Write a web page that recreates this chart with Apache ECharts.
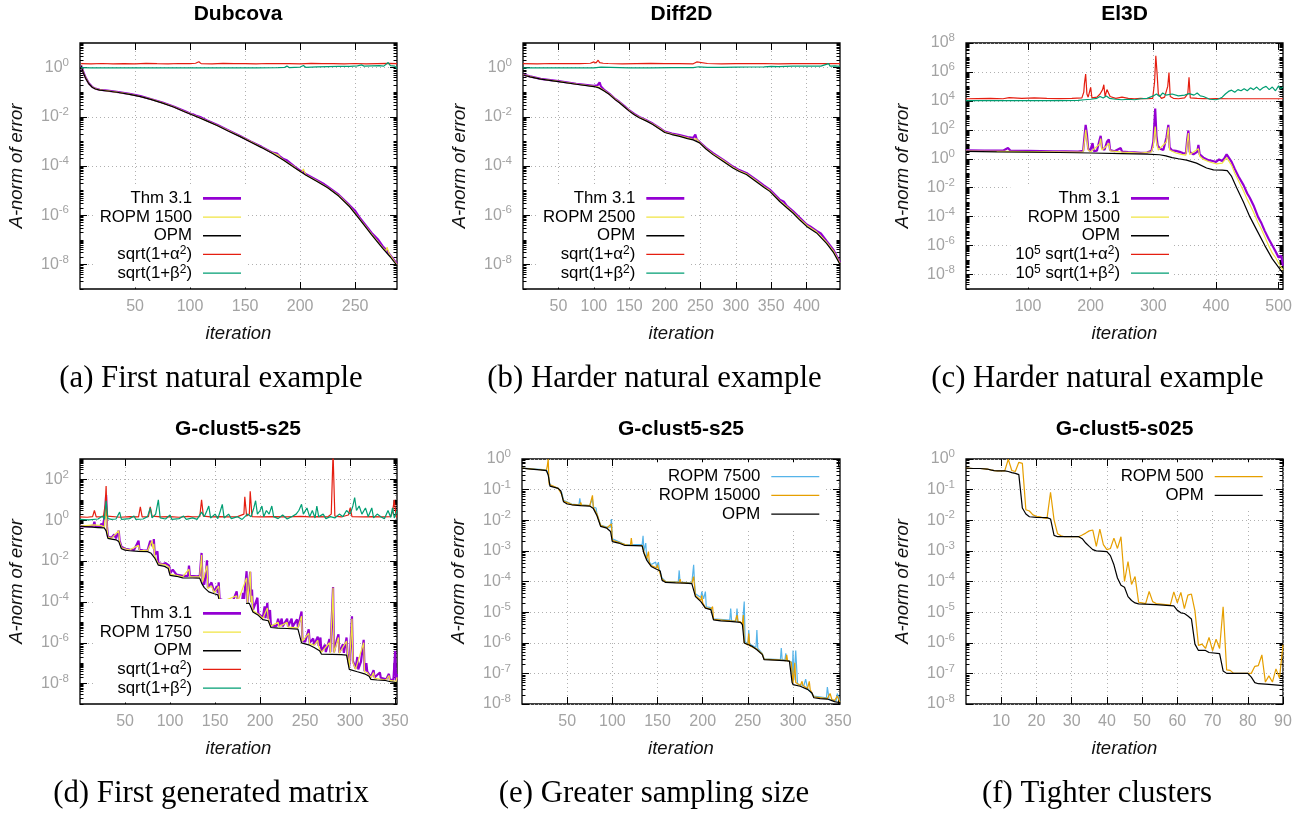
<!DOCTYPE html>
<html><head><meta charset="utf-8">
<script src="https://cdn.jsdelivr.net/npm/echarts/dist/echarts.min.js"></script>
<style>html,body{margin:0;padding:0;background:#fff}#c{width:1310px;height:813px}</style>
</head><body><div id="c"></div>
<script>
// ---------- tick labels ----------
const xTicksA = [50,100,150,200,250];
const xTicksB = [50,100,150,200,250,300,350,400];
const xTicksC = [100,200,300,400,500];
const xTicksD = [50,100,150,200,250,300,350];
const xTicksF = [10,20,30,40,50,60,70,80,90];
const yTicksAB = [1e-8,1e-6,1e-4,1e-2,1];
const yTicksC = [1e-8,1e-6,1e-4,1e-2,1,1e2,1e4,1e6,1e8];
const yTicksD = [1e-8,1e-6,1e-4,1e-2,1,1e2];
const yTicksEF = [1e-8,1e-7,1e-6,1e-5,1e-4,1e-3,1e-2,1e-1,1];

// ---------- (a) Dubcova ----------
const dubThm = [[1,1.25],[3,0.66],[5,0.4],[8,0.23],[11,0.165],[14,0.14],[18,0.126],[25,0.116],[35,0.1],[45,0.085],[55,0.069],[65,0.052],[75,0.038],[85,0.026],[95,0.017],[101,0.013],[103,0.0125],[105,0.0112],[110,0.0095],[115,0.0072],[125,0.0046],[135,0.0028],[145,0.0017],[155,0.001],[165,0.0006],[172,0.00041],[175,0.00035],[179,0.00032],[181,0.00026],[185,0.00019],[188,0.00017],[195,9.5e-5],[200,6.5e-5],[203,5.8e-5],[205,4.7e-5],[215,2.7e-5],[222,1.8e-5],[225,1.45e-5],[235,6.8e-6],[245,2.5e-6],[250,1.5e-6],[255,7e-7],[265,1.9e-7],[271,1e-7],[275,5.5e-8],[279,3.6e-8],[282,2.3e-8],[288,1.05e-8]];
const dubROPM = [[1,1.22],[3,0.64],[5,0.39],[8,0.225],[11,0.162],[14,0.137],[18,0.124],[25,0.114],[35,0.099],[45,0.083],[55,0.067],[65,0.051],[75,0.037],[85,0.0255],[95,0.0165],[105,0.0108],[115,0.007],[125,0.0044],[135,0.0027],[145,0.00165],[155,0.00098],[165,0.00058],[175,0.00034],[180,0.00028],[182,0.00022],[185,0.000175],[195,9e-5],[201,5.5e-5],[203,7.5e-5],[205,4.4e-5],[215,2.5e-5],[225,1.35e-5],[235,6.3e-6],[245,2.3e-6],[255,6.3e-7],[265,1.7e-7],[275,4.8e-8],[278,3.5e-8],[279,5e-8],[281,2.6e-8],[288,9.5e-9]];
const dubOPM = [[1,1.2],[3,0.62],[5,0.38],[8,0.22],[11,0.16],[14,0.135],[18,0.122],[25,0.112],[35,0.097],[45,0.082],[55,0.066],[65,0.05],[75,0.036],[85,0.025],[95,0.016],[105,0.0105],[115,0.0068],[125,0.0043],[135,0.0026],[145,0.0016],[155,0.00095],[165,0.00056],[175,0.00032],[185,0.00017],[195,8.5e-5],[205,4.3e-5],[215,2.4e-5],[225,1.3e-5],[235,6e-6],[245,2.2e-6],[255,6e-7],[265,1.6e-7],[275,4.5e-8],[282,2e-8],[288,9e-9]];
const dubAlpha = [[1,1.45],[10,1.42],[20,1.47],[30,1.43],[40,1.46],[50,1.42],[60,1.48],[70,1.44],[80,1.43],[90,1.47],[100,1.44],[105,1.5],[108,1.72],[110,1.45],[120,1.43],[130,1.48],[140,1.44],[150,1.46],[160,1.42],[170,1.47],[180,1.44],[190,1.46],[200,1.43],[210,1.48],[220,1.44],[230,1.46],[240,1.42],[250,1.47],[260,1.43],[270,1.46],[280,1.48],[288,1.45]];
const dubBeta = [[1,1.0],[10,0.97],[20,0.98],[40,0.97],[60,0.98],[80,0.97],[100,0.98],[120,0.97],[140,0.98],[160,0.98],[180,0.99],[186,1.02],[188,1.15],[190,1.0],[200,1.05],[203,1.22],[205,1.03],[215,1.08],[225,1.1],[235,1.12],[245,1.12],[252,1.18],[256,1.28],[258,1.15],[265,1.18],[272,1.2],[276,1.15],[280,1.6],[282,1.2],[286,1.15],[288,0.92]];

// ---------- (b) Diff2D ----------
const difThm = [[0,0.52],[10,0.44],[25,0.35],[50,0.28],[75,0.22],[100,0.18],[105,0.19],[108,0.25],[110,0.17],[115,0.12],[122,0.085],[130,0.053],[136,0.04],[143,0.027],[150,0.018],[157,0.013],[164,0.0098],[175,0.007],[183,0.0053],[192,0.0036],[200,0.0025],[210,0.0021],[221,0.0018],[232,0.0015],[240,0.0014],[243,0.0019],[245,0.0012],[249,0.00095],[258,0.00055],[268,0.00033],[282,0.00018],[296,9.5e-5],[305,6.8e-5],[315,5.2e-5],[329,2.7e-5],[340,1.6e-5],[348,1.1e-5],[362,4.3e-6],[368,3.5e-6],[372,2.4e-6],[381,1.45e-6],[390,8e-7],[400,4.2e-7],[405,3.5e-7],[414,2.3e-7],[420,1.8e-7],[428,9e-8],[438,3.8e-8],[447,1.2e-8]];
const difROPM = [[0,0.51],[10,0.43],[25,0.345],[50,0.275],[75,0.215],[100,0.175],[107,0.16],[115,0.115],[122,0.083],[130,0.052],[136,0.039],[143,0.026],[150,0.0175],[157,0.0125],[164,0.0095],[175,0.0068],[183,0.0051],[192,0.0035],[200,0.0024],[210,0.002],[221,0.0017],[232,0.0014],[240,0.0012],[244,0.0013],[249,0.0009],[258,0.00052],[268,0.00031],[282,0.00017],[296,8.9e-5],[305,6.4e-5],[315,4.8e-5],[329,2.5e-5],[340,1.45e-5],[348,1e-5],[362,3.9e-6],[372,2.2e-6],[381,1.3e-6],[390,7.2e-7],[400,3.9e-7],[414,2.1e-7],[428,8e-8],[438,3.4e-8],[447,1.1e-8]];
const difOPM = [[0,0.5],[10,0.42],[25,0.34],[50,0.27],[75,0.21],[100,0.17],[107,0.15],[115,0.11],[122,0.08],[130,0.05],[136,0.037],[143,0.025],[150,0.017],[157,0.012],[164,0.0091],[175,0.0065],[183,0.0049],[192,0.0033],[200,0.0023],[210,0.0019],[221,0.0016],[232,0.0013],[240,0.00115],[249,0.00087],[258,0.00049],[268,0.00029],[282,0.000155],[296,8.3e-5],[305,6e-5],[315,4.5e-5],[329,2.3e-5],[340,1.35e-5],[348,9.3e-6],[362,3.6e-6],[372,2e-6],[381,1.2e-6],[390,6.5e-7],[400,3.5e-7],[414,1.9e-7],[428,7.2e-8],[438,3e-8],[447,1e-8]];
const difAlpha = [[0,1.45],[20,1.43],[40,1.47],[60,1.44],[80,1.46],[95,1.5],[100,1.7],[103,1.55],[106,2.0],[108,1.6],[110,1.85],[113,1.5],[120,1.47],[140,1.43],[160,1.46],[180,1.48],[200,1.44],[220,1.46],[240,1.43],[245,1.7],[247,1.45],[260,1.47],[280,1.43],[300,1.46],[320,1.44],[340,1.47],[360,1.43],[380,1.46],[400,1.45],[420,1.47],[440,1.44],[447,1.45]];
const difBeta = [[0,0.98],[20,0.97],[50,0.98],[80,0.97],[100,0.98],[110,1.05],[112,0.98],[150,0.97],[180,0.98],[210,1.0],[240,1.0],[248,1.08],[260,1.02],[280,1.03],[300,1.05],[320,1.06],[340,1.08],[350,1.12],[360,1.1],[380,1.14],[400,1.15],[420,1.15],[431,1.45],[433,1.15],[440,1.18],[447,1.12]];

// ---------- (c) El3D ----------
const elThm = [[1,3.8],[30,3.7],[60,3.6],[68,5.5],[70,4.2],[72,3.6],[100,3.5],[120,3.4],[140,3.3],[160,3.2],[180,3.1],[188,3.5],[190,30],[192,220],[194,50],[196,5],[199,3.4],[203,12],[205,3.4],[210,3.6],[214,18],[216,38],[218,6],[222,4],[226,15],[229,22],[231,4],[238,3.3],[248,5.5],[250,3.1],[260,2.9],[270,2.8],[280,2.6],[290,2.7],[297,3.5],[300,15],[303,3000],[305,40],[307,8],[311,5],[316,4],[321,30],[324,220],[326,6],[330,3.8],[336,3.5],[342,3.0],[347,2.5],[352,2.3],[354,20],[356,90],[358,3],[364,2],[370,3],[372,9],[374,2],[380,1.2],[388,0.8],[395,0.7],[400,0.6],[405,0.9],[410,0.7],[414,1.2],[417,2.0],[420,1.5],[425,0.6],[430,0.2],[436,0.06],[444,0.015],[450,0.004],[454,0.002],[460,0.0006],[467,0.0001],[472,4e-5],[478,1e-5],[484,3e-6],[490,1e-6],[495,4e-7],[500,1.5e-7],[504,2e-7],[507,4e-8]];
const elROPM = [[1,3.4],[60,3.2],[100,3.1],[140,3.0],[180,2.9],[188,3.0],[190,15],[192,100],[194,20],[196,4],[200,3.0],[214,10],[216,25],[218,4],[226,8],[229,12],[231,3.5],[250,2.9],[280,2.5],[297,3],[300,8],[303,170],[305,15],[308,4],[321,15],[324,150],[326,4],[336,2.5],[345,2.0],[352,1.8],[354,12],[356,60],[358,2],[372,5],[374,1.5],[380,0.9],[390,0.6],[400,0.45],[410,0.5],[417,1.2],[420,0.9],[425,0.35],[430,0.1],[436,0.03],[444,0.006],[450,0.0015],[454,0.0007],[460,0.0002],[467,4e-5],[472,1.5e-5],[475,2e-5],[478,4e-6],[484,1e-6],[490,3e-7],[495,1.5e-7],[500,6e-8],[507,2e-8]];
const elOPM = [[1,3.2],[50,3.0],[100,2.9],[150,2.7],[200,2.5],[250,2.3],[290,2.1],[310,1.9],[320,1.6],[330,1.2],[340,1.0],[353,0.8],[369,0.5],[385,0.23],[396,0.17],[410,0.165],[418,0.15],[425,0.06],[433,0.01],[444,0.001],[454,0.0001],[466,1e-5],[478,1e-6],[490,1.2e-7],[507,1.2e-8]];
const elAlpha = [[1,1.4e4],[20,1.45e4],[40,1.5e4],[60,1.4e4],[70,1.7e4],[72,1.45e4],[90,1.5e4],[110,1.6e4],[130,1.5e4],[150,1.45e4],[170,1.5e4],[186,1.6e4],[189,4e4],[190,1.5e5],[192,7.2e5],[194,3e4],[196,1.8e4],[200,8.7e4],[202,1.6e4],[210,1.8e4],[215,3e4],[219,6e4],[221,1.3e5],[223,2e4],[226,6e4],[229,7.4e4],[231,2e4],[240,1.5e4],[250,1.8e4],[260,1.5e4],[270,1.4e4],[280,1.5e4],[290,1.4e4],[299,1.5e4],[302,2e5],[304,1.3e7],[306,8e5],[308,3e4],[313,1.5e4],[318,1.8e4],[323,1e5],[325,9e5],[327,2e4],[332,1.5e4],[340,1.4e4],[350,1.6e4],[355,3e4],[357,4.3e5],[359,1.6e4],[370,1.5e4],[380,1.45e4],[390,1.4e4],[400,1.45e4],[420,1.4e4],[440,1.4e4],[460,1.4e4],[480,1.4e4],[507,1.4e4]];
const elBeta = [[1,1.05e4],[50,1.05e4],[100,1.05e4],[150,1.05e4],[180,1.1e4],[190,1.2e4],[200,1.3e4],[210,1.5e4],[215,2e4],[220,1.6e4],[225,2.2e4],[230,1.5e4],[240,1.3e4],[250,1.2e4],[260,1.3e4],[270,1.2e4],[280,1.4e4],[290,1.5e4],[300,2.2e4],[305,3e4],[310,2e4],[315,3.5e4],[320,2.5e4],[330,3e4],[340,2.2e4],[350,2.5e4],[357,3.2e4],[365,2.5e4],[370,3.5e4],[375,2.2e4],[380,2e4],[390,1.3e4],[400,1.2e4],[405,1.4e4],[410,1.8e4],[415,3e4],[420,4.5e4],[425,5.5e4],[430,4e4],[435,6e4],[440,5e4],[445,7e4],[450,5e4],[455,8e4],[460,6e4],[465,9e4],[470,5.5e4],[475,8e4],[480,1e5],[485,6e4],[490,9e4],[495,5e4],[500,1.1e5],[503,7e4],[507,9e4]];

// ---------- (d)/(e) G-clust5-s25 ----------
const gOPM = [[0,0.5],[10,0.47],[20,0.44],[27,0.42],[29,0.3],[31,0.13],[35,0.12],[40,0.11],[43,0.09],[46,0.04],[50,0.034],[55,0.032],[65,0.03],[75,0.029],[79,0.024],[83,0.014],[87,0.0063],[94,0.0055],[98,0.0043],[100,0.002],[107,0.0018],[114,0.0015],[125,0.00148],[133,0.00145],[135,0.00083],[138,0.0005],[143,0.00031],[149,0.00025],[153,0.00022],[155,0.00011],[159,9.3e-5],[170,9e-5],[180,8.8e-5],[188,8.5e-5],[190,8e-5],[192,3.2e-5],[198,2.2e-5],[203,1.35e-5],[209,1.2e-5],[212,5.6e-6],[220,5.2e-6],[230,5e-6],[242,4.6e-6],[244,3.9e-6],[246,9.8e-7],[255,7.6e-7],[260,5.9e-7],[266,4.1e-7],[268,2.8e-7],[280,2.7e-7],[290,2.6e-7],[296,2.5e-7],[298,2.2e-7],[299,5e-8],[300,4.3e-8],[308,3.8e-8],[316,3e-8],[321,2.3e-8],[323,1.6e-8],[330,1.5e-8],[338,1.45e-8],[340,1.25e-8],[346,1.2e-8],[352,1.1e-8]];
const gThm = [[0,0.52],[10,0.5],[15,0.55],[16,0.85],[17,0.5],[22,0.48],[24,0.7],[25,0.46],[27,0.45],[28,2],[29,17],[30,0.5],[31,0.16],[35,0.14],[38,0.2],[40,0.13],[43,0.31],[44,0.1],[46,0.05],[50,0.04],[55,0.037],[60,0.035],[65,0.1],[66,0.036],[70,0.034],[75,0.033],[78,0.1],[80,0.12],[81,0.05],[82,0.12],[83,0.02],[86,0.03],[87,0.008],[92,0.007],[95,0.008],[97,0.009],[99,0.006],[100,0.0025],[103,0.0038],[107,0.0022],[114,0.0019],[120,0.0019],[121,0.006],[122,0.0019],[130,0.0018],[133,0.0019],[135,0.025],[136,0.001],[138,0.0007],[140,0.003],[141,0.011],[142,0.0005],[146,0.0009],[149,0.0003],[152,0.0006],[153,0.00027],[154,0.0009],[155,0.00014],[159,0.00012],[165,0.00011],[170,0.00012],[174,0.00033],[175,0.00011],[180,0.00011],[181,0.00028],[182,0.00011],[185,0.0032],[186,0.0001],[189,0.003],[190,0.0001],[191,0.0004],[192,4e-5],[197,0.00016],[198,2.7e-5],[203,1.7e-5],[205,6e-5],[206,1.6e-5],[208,9e-5],[209,1.5e-5],[211,4e-5],[212,7e-6],[218,6.5e-6],[220,1.5e-5],[221,6.5e-6],[224,1.5e-5],[225,6.3e-6],[230,1.5e-5],[231,6.2e-6],[235,1.5e-5],[236,6e-6],[241,1.4e-5],[242,5.8e-6],[246,3.4e-5],[247,1.3e-6],[250,1.1e-6],[254,4.5e-6],[255,1e-6],[259,1.6e-6],[260,8e-7],[264,2e-6],[265,7e-7],[267,1.8e-6],[268,3.7e-7],[272,8e-7],[273,3.5e-7],[277,1.5e-6],[278,3.4e-7],[281,0.00054],[282,3.4e-7],[285,1.3e-6],[287,2.6e-6],[288,3.3e-7],[292,8.5e-7],[293,3.2e-7],[296,1.8e-6],[297,3e-7],[299,7e-8],[302,2e-5],[303,1.3e-7],[306,5.5e-8],[308,2e-7],[309,5e-8],[312,1.2e-7],[315,1.4e-6],[316,4e-8],[318,1e-7],[319,3.8e-8],[323,2.1e-8],[326,4.5e-8],[327,2e-8],[333,3.5e-8],[334,1.9e-8],[340,1.6e-8],[343,3e-8],[344,1.55e-8],[348,1.5e-8],[350,4e-7],[351,1.4e-8],[352,3e-8]];
const gROPM1750 = [[0,0.51],[16,0.6],[17,0.49],[24,0.55],[25,0.45],[27,0.44],[28,1.5],[29,10],[30,0.4],[31,0.15],[35,0.13],[43,0.31],[44,0.09],[46,0.045],[55,0.035],[65,0.06],[66,0.034],[75,0.032],[80,0.1],[81,0.04],[82,0.07],[83,0.018],[87,0.0075],[95,0.0065],[99,0.005],[100,0.0023],[107,0.002],[114,0.0017],[121,0.004],[122,0.0017],[133,0.0017],[135,0.02],[136,0.0009],[141,0.006],[142,0.00045],[146,0.0006],[149,0.00028],[154,0.0006],[155,0.00013],[159,0.00011],[174,0.0002],[175,0.0001],[185,0.0015],[186,9.5e-5],[189,0.0032],[190,9e-5],[191,0.0002],[192,3.8e-5],[198,2.5e-5],[203,1.55e-5],[208,5e-5],[209,1.4e-5],[212,6.5e-6],[220,1e-5],[221,6e-6],[230,1e-5],[231,5.8e-6],[242,5.4e-6],[246,2e-5],[247,1.2e-6],[254,3e-6],[255,9e-7],[260,7.5e-7],[264,1.3e-6],[265,6.5e-7],[268,3.4e-7],[277,1e-6],[278,3.2e-7],[281,0.0005],[282,3.2e-7],[287,1.8e-6],[288,3.1e-7],[296,1.2e-6],[297,2.8e-7],[299,6e-8],[302,1.5e-5],[303,1.1e-7],[306,5e-8],[315,1e-6],[316,3.7e-8],[319,3.5e-8],[323,1.9e-8],[326,3.5e-8],[327,1.8e-8],[340,1.5e-8],[343,2.5e-8],[344,1.45e-8],[351,1.3e-8],[352,2e-8]];
const gAlpha = [[0,1.45],[8,1.4],[14,1.5],[16,3],[18,1.45],[26,1.5],[28,6],[29,47],[30,1.6],[32,1.45],[45,1.4],[55,1.5],[65,1.45],[67,4.5],[69,1.45],[76,1.5],[78,4.5],[80,1.6],[90,1.45],[100,1.5],[110,1.4],[120,1.55],[125,1.45],[133,1.5],[135,10],[137,1.6],[145,1.45],[155,1.5],[165,1.45],[175,1.5],[182,2],[183,14],[185,1.6],[188,2],[189,26],[191,1.5],[200,1.45],[215,1.5],[230,1.45],[245,1.55],[255,1.45],[265,1.5],[275,1.45],[279,2],[281,2000],[283,1.6],[290,1.45],[298,1.8],[300,4],[302,1.5],[315,1.45],[325,1.5],[335,1.45],[345,1.5],[347,2.5],[349,10],[351,1.5],[352,1.4]];
const gBeta = [[0,1.1],[10,1.05],[20,1.15],[25,1.6],[27,1.1],[29,9],[31,1.2],[35,1.1],[40,1.15],[44,2.5],[46,1.1],[55,1.2],[60,1.6],[62,1.1],[70,1.15],[75,1.5],[78,4],[80,1.3],[84,2],[87,10],[89,1.3],[95,1.15],[100,1.8],[102,1.1],[110,1.2],[115,1.6],[118,1.1],[125,1.3],[130,1.1],[135,2.5],[138,1.5],[141,3],[143,5],[145,1.3],[150,2],[153,1.2],[156,3],[158,6],[160,1.3],[165,2],[168,1.2],[175,1.5],[180,1.1],[186,2],[190,1.5],[193,4],[195,9],[197,2],[200,3],[202,5],[204,1.5],[207,3],[210,2],[213,5],[215,1.5],[220,1.2],[225,1.8],[230,1.15],[235,1.5],[240,2],[243,3],[246,6],[248,2],[252,4],[255,1.5],[258,3],[261,1.3],[263,5],[265,1.5],[270,2],[273,1.2],[278,1.5],[283,1.3],[288,2],[292,1.5],[296,3],[300,2],[303,5],[305,13],[307,3],[310,5],[313,2],[317,4],[320,1.5],[324,4],[326,1.3],[330,2],[334,1.5],[338,1.2],[342,3],[345,1.4],[347,4],[349,1.3],[352,3]];
const gROPM7500 = [[0,0.5],[27,0.44],[29,0.32],[31,0.14],[37,0.12],[38,0.13],[40,0.11],[44,0.08],[45,0.075],[46,0.045],[55,0.034],[63,0.032],[64,0.052],[65,0.032],[75,0.03],[78,0.05],[79,0.027],[82,0.025],[83,0.016],[87,0.007],[94,0.006],[98,0.006],[99,0.011],[100,0.0025],[107,0.002],[114,0.0016],[133,0.0016],[134,0.0031],[135,0.001],[137,0.0018],[138,0.0006],[143,0.00036],[148,0.00043],[149,0.0003],[151,0.00043],[152,0.00025],[155,0.00013],[159,0.0001],[173,9.8e-5],[174,0.00023],[175,9.6e-5],[188,9e-5],[190,0.00035],[191,9e-5],[192,4e-5],[198,3e-5],[199,4.7e-5],[201,2.7e-5],[203,4.7e-5],[204,1.5e-5],[209,1.4e-5],[210,1.5e-5],[212,6e-6],[230,5.5e-6],[231,1.3e-5],[232,5.3e-6],[237,5.2e-6],[238,1.3e-5],[239,5e-6],[244,4.2e-6],[246,2.2e-5],[247,1.1e-6],[250,9e-7],[251,2.6e-6],[252,9e-7],[259,7e-7],[260,2.6e-6],[261,6.5e-7],[266,4.5e-7],[268,3e-7],[286,2.8e-7],[287,6.7e-7],[288,2.8e-7],[291,2.7e-7],[292,4.5e-7],[293,2.7e-7],[298,2.4e-7],[299,6e-8],[300,5.6e-7],[301,6e-8],[303,5.6e-7],[305,4.5e-8],[312,4e-8],[314,6.5e-8],[316,3.3e-8],[323,1.8e-8],[337,1.6e-8],[338,3.6e-8],[340,1.4e-8],[348,1.3e-8],[349,2.2e-8],[352,1.2e-8]];
const gROPM15000 = [[0,0.5],[27,0.43],[28,0.6],[29,1.0],[30,0.15],[31,0.13],[40,0.11],[44,0.07],[46,0.042],[55,0.033],[64,0.031],[65,0.038],[66,0.031],[75,0.03],[77,0.03],[78,0.065],[79,0.026],[83,0.016],[87,0.0068],[94,0.0057],[99,0.0075],[100,0.0022],[107,0.0019],[114,0.0016],[120,0.0015],[121,0.0026],[122,0.0015],[133,0.0015],[135,0.0009],[138,0.00055],[140,0.00095],[141,0.0004],[143,0.00033],[149,0.00028],[150,0.00035],[151,0.00026],[153,0.00023],[155,0.00012],[159,9.8e-5],[174,9.4e-5],[175,0.00012],[176,9.2e-5],[188,8.7e-5],[190,0.000145],[191,7e-5],[192,3.5e-5],[198,2.4e-5],[199,3.5e-5],[200,2e-5],[203,1.4e-5],[209,1.25e-5],[211,1.5e-5],[212,5.8e-6],[236,5e-6],[238,8e-6],[239,5e-6],[242,4.7e-6],[244,4e-6],[245,8e-6],[246,1e-6],[250,8.5e-7],[251,2e-6],[252,8e-7],[260,6.2e-7],[266,4.3e-7],[268,2.9e-7],[287,2.7e-7],[292,2.6e-7],[293,4e-7],[294,2.6e-7],[298,2.3e-7],[300,4.8e-8],[302,2.2e-7],[303,5e-8],[308,4e-8],[310,5.5e-8],[311,4e-8],[316,3.2e-8],[318,5.5e-8],[319,3e-8],[323,1.7e-8],[338,1.5e-8],[341,2.2e-8],[343,1.4e-8],[346,1.3e-8],[349,1.8e-8],[352,1.15e-8]];

// ---------- (f) G-clust5-s025 ----------
const fROPM500 = [[0,0.5],[2,0.49],[4,0.49],[6,0.47],[7,0.44],[8,0.42],[9,0.41],[11,0.41],[12,0.98],[13,0.42],[14,0.39],[15,0.78],[16,0.72],[17,0.022],[18,0.02],[19,0.015],[20,0.0135],[21,0.013],[22,0.012],[23,0.0115],[24,0.082],[25,0.0103],[26,0.0036],[27,0.0031],[28,0.0029],[32,0.0029],[33,0.0033],[34,0.0038],[35,0.0045],[36,0.0048],[37,0.0014],[38,0.0051],[39,0.0016],[40,0.0011],[41,0.0012],[42,0.0026],[43,0.0012],[44,0.0029],[45,0.0001],[46,0.00045],[47,8e-5],[48,0.000145],[49,2.1e-5],[50,2e-5],[51,1.9e-5],[52,4.7e-5],[53,2.2e-5],[54,1.9e-5],[58,1.7e-5],[59,4.6e-5],[60,2e-5],[61,4.4e-5],[62,1.3e-5],[63,3.6e-5],[64,3.9e-5],[65,1.1e-5],[66,8.2e-7],[67,9e-7],[68,6.5e-7],[69,1.5e-6],[70,5.5e-7],[71,1.3e-6],[72,6.5e-7],[73,1.5e-5],[74,1.3e-7],[75,1.25e-7],[76,1e-7],[81,1e-7],[82,1.7e-7],[83,1.8e-7],[84,4e-7],[85,5.2e-8],[86,8.3e-8],[87,5.2e-8],[88,1.4e-7],[89,7e-8],[90,8.5e-7]];
const fOPM = [[0,0.5],[2,0.49],[4,0.49],[6,0.47],[7,0.44],[8,0.42],[9,0.41],[11,0.41],[12,0.39],[13,0.36],[14,0.34],[15,0.31],[16,0.025],[17,0.016],[18,0.013],[20,0.0125],[23,0.0122],[24,0.011],[25,0.0032],[26,0.0029],[32,0.0029],[33,0.0025],[34,0.0018],[35,0.0014],[36,0.0011],[37,0.001],[40,0.00095],[41,0.0007],[42,0.00035],[43,0.00013],[44,7.5e-5],[45,6.5e-5],[46,3.2e-5],[47,2.4e-5],[48,2e-5],[49,1.85e-5],[54,1.75e-5],[59,1.6e-5],[60,1.15e-5],[61,9.5e-6],[62,9e-6],[63,7.5e-6],[64,6e-6],[65,9e-7],[66,5.6e-7],[68,5.6e-7],[69,4.8e-7],[72,4.4e-7],[73,1.2e-7],[74,1e-7],[80,1e-7],[81,7.5e-8],[82,5e-8],[83,4.6e-8],[86,4.4e-8],[90,4e-8]];

// ---------- styling ----------
const FONT = "'Liberation Sans', Arial, sans-serif";
const SERIF = "'Liberation Serif', 'Times New Roman', serif";
const GRAY = '#a3a3a3';
const COL = {thm:'#9400d3', ropm:'#f0e442', opm:'#000000', alpha:'#e51e10', beta:'#009e73', sky:'#56b4e9', orange:'#e69f00'};
const WID = {thm:2.2, ropm:1.2, opm:1.2, alpha:1.2, beta:1.2, sky:1.2, orange:1.2};

const panels = [
  {title:'Dubcova', cap:'(a) First natural example', cx:238, capx:211, row:0, grid:[80,43,317,246], xr:[0,288], xt:xTicksA, yr:[1e-9,10], yt:yTicksAB, leg:[1064,184,38],
   s:[['Thm 3.1',dubThm,'thm'],['ROPM 1500',dubROPM,'ropm'],['OPM',dubOPM,'opm'],['sqrt(1+α²)',dubAlpha,'alpha'],['sqrt(1+β²)',dubBeta,'beta']]},
  {title:'Diff2D', cap:'(b) Harder natural example', cx:681.5, capx:654.5, row:0, grid:[523,43,317,246], xr:[0,447], xt:xTicksB, yr:[1e-9,10], yt:yTicksAB, leg:[620.7,184,38],
   s:[['Thm 3.1',difThm,'thm'],['ROPM 2500',difROPM,'ropm'],['OPM',difOPM,'opm'],['sqrt(1+α²)',difAlpha,'alpha'],['sqrt(1+β²)',difBeta,'beta']]},
  {title:'El3D', cap:'(c) Harder natural example', cx:1124.5, capx:1097.5, row:0, grid:[966,43,317,246], xr:[1,507], xt:xTicksC, yr:[1e-9,1e8], yt:yTicksC, leg:[136,184,38],
   s:[['Thm 3.1',elThm,'thm'],['ROPM 1500',elROPM,'ropm'],['OPM',elOPM,'opm'],['10⁵ sqrt(1+α²)',elAlpha,'alpha'],['10⁵ sqrt(1+β²)',elBeta,'beta']]},
  {title:'G-clust5-s25', cap:'(d) First generated matrix', cx:238, capx:211, row:1, grid:[80,459,317,245], xr:[0,352], xt:xTicksD, yr:[1e-9,1e3], yt:yTicksD, leg:[1064,599,38],
   s:[['Thm 3.1',gThm,'thm'],['ROPM 1750',gROPM1750,'ropm'],['OPM',gOPM,'opm'],['sqrt(1+α²)',gAlpha,'alpha'],['sqrt(1+β²)',gBeta,'beta']]},
  {title:'G-clust5-s25', cap:'(e) Greater sampling size', cx:681, capx:654, row:1, grid:[522,459,318,245], xr:[0,352], xt:xTicksD, yr:[1e-8,1], yt:yTicksEF, leg:[485.7,462.3,48],
   s:[['ROPM 7500',gROPM7500,'sky'],['ROPM 15000',gROPM15000,'orange'],['OPM',gOPM,'opm']]},
  {title:'G-clust5-s025', cap:'(f) Tighter clusters', cx:1124.5, capx:1097, row:1, grid:[966,459,317,245], xr:[0,90], xt:xTicksF, yr:[1e-8,1], yt:yTicksEF, leg:[42.3,462.3,48],
   s:[['ROPM 500',fROPM500,'orange'],['OPM',fOPM,'opm']]}
];

function minorVals(min, max, majors) {
  const out = [];
  const d0 = Math.round(Math.log10(min)), d1 = Math.round(Math.log10(max));
  const isMajor = d => majors.some(m => Math.abs(Math.log10(m) - d) < 1e-6);
  for (let d = d0; d < d1; d++) {
    const b = Math.pow(10, d);
    if (!isMajor(d)) out.push(b);
    for (let k = 2; k <= 9; k++) out.push(k * b);
  }
  if (!isMajor(d1)) out.push(Math.pow(10, d1));
  return out;
}
function yFmt(v) {
  const e = Math.round(Math.log10(v));
  return '{b|10}{s|' + (e < 0 ? '-' + (-e) : e) + '}';
}
const legFmt = n => n.replace('10⁵', '10{s|5}').replace('²', '{s|2}');

const grids = [], xAxes = [], yAxes = [], series = [], legends = [], titles = [];
const tickLine = {color:'#000', width:1};
const gridLine = {show:true, lineStyle:{color:'#b0b0b0', type:[1,3], width:1}};

panels.forEach((p, i) => {
  const [gl, gt, gw, gh] = p.grid;
  grids.push({left:gl, top:gt, width:gw, height:gh, show:true, borderColor:'#000', borderWidth:1.3, backgroundColor:'transparent', containLabel:false, outerBoundsMode:'none'});
  const xBase = {type:'value', gridIndex:i, min:p.xr[0], max:p.xr[1], axisLine:{show:false, onZero:false}, splitLine:{show:false}, axisLabel:{show:false},
    axisTick:{show:true, inside:true, length:7, lineStyle:tickLine, customValues:p.xt}};
  xAxes.push(Object.assign({}, xBase, {position:'bottom', name:'iteration', nameLocation:'middle', nameGap:35,
    nameTextStyle:{fontFamily:FONT, fontSize:18.5, fontStyle:'italic', color:'#111'},
    axisLabel:{show:true, customValues:p.xt, margin:10, color:GRAY, fontSize:16, fontFamily:FONT, hideOverlap:false},
    splitLine:gridLine}));
  xAxes.push(Object.assign({}, xBase, {position:'top'}));
  const yBase = {type:'log', logBase:10, gridIndex:i, min:p.yr[0], max:p.yr[1], axisLine:{show:false, onZero:false}, splitLine:{show:false}, axisLabel:{show:false}};
  const majT = {show:true, inside:true, length:7, lineStyle:tickLine, customValues:p.yt};
  const minT = {show:true, inside:true, length:3.5, lineStyle:tickLine, customValues:minorVals(p.yr[0], p.yr[1], p.yt)};
  yAxes.push(Object.assign({}, yBase, {position:'left', axisTick:majT, name:'A-norm of error', nameLocation:'middle', nameGap:54, nameRotate:90,
    nameTextStyle:{fontFamily:FONT, fontSize:18.4, fontStyle:'italic', color:'#111'},
    axisLabel:{show:true, customValues:p.yt, formatter:yFmt, margin:11, hideOverlap:false,
      rich:{b:{fontFamily:FONT, fontSize:16, color:GRAY, lineHeight:22}, s:{fontFamily:FONT, fontSize:11.5, color:GRAY, lineHeight:11, verticalAlign:'top'}}},
    splitLine:gridLine}));
  yAxes.push(Object.assign({}, yBase, {position:'left', axisTick:minT}));
  yAxes.push(Object.assign({}, yBase, {position:'right', axisTick:majT}));
  yAxes.push(Object.assign({}, yBase, {position:'right', axisTick:minT}));

  const legData = [];
  p.s.forEach(([name, data, key]) => {
    series.push({type:'line', name:name, data:data, xAxisIndex:2*i, yAxisIndex:4*i, symbol:'none', showSymbol:false,
      lineStyle:{color:COL[key], width:WID[key]}, itemStyle:{color:COL[key]}, emphasis:{disabled:true}, animation:false, silent:true, clip:true});
    const th = key === 'thm' ? 2.7 : 1.3;
    const w = p.leg[2];
    legData.push({name:name, icon:'path://M0,0H' + w + 'V' + th + 'H0Z'});
  });
  legends.push({data:legData, orient:'vertical', align:'right', right:p.leg[0], top:p.leg[1], itemWidth:p.leg[2], itemHeight:14, itemGap:0,
    padding:5, backgroundColor:'#fff', selectedMode:false, formatter:legFmt, itemStyle:{borderWidth:0},
    textStyle:{fontFamily:FONT, fontSize:16.8, color:'#000', lineHeight:18.7, padding:[0,6,0,0],
      rich:{s:{fontFamily:FONT, fontSize:12, color:'#000', lineHeight:12, verticalAlign:'top'}}}});

  titles.push({text:p.title, left:p.cx, top:p.row ? 418.5 : 3.5, textAlign:'center', padding:0,
    textStyle:{fontFamily:FONT, fontSize:21, fontWeight:'bold', color:'#000'}});
  titles.push({text:p.cap, left:p.capx, top:p.row ? 778.5 : 363.5, textAlign:'center', padding:0,
    textStyle:{fontFamily:SERIF, fontSize:30.8, fontWeight:'normal', color:'#000'}});
});

const chart = echarts.init(document.getElementById('c'), null, {renderer:'canvas'});
chart.setOption({animation:false, backgroundColor:'#fff', title:titles, grid:grids, xAxis:xAxes, yAxis:yAxes, legend:legends, series:series, tooltip:{show:false}});
</script></body></html>
